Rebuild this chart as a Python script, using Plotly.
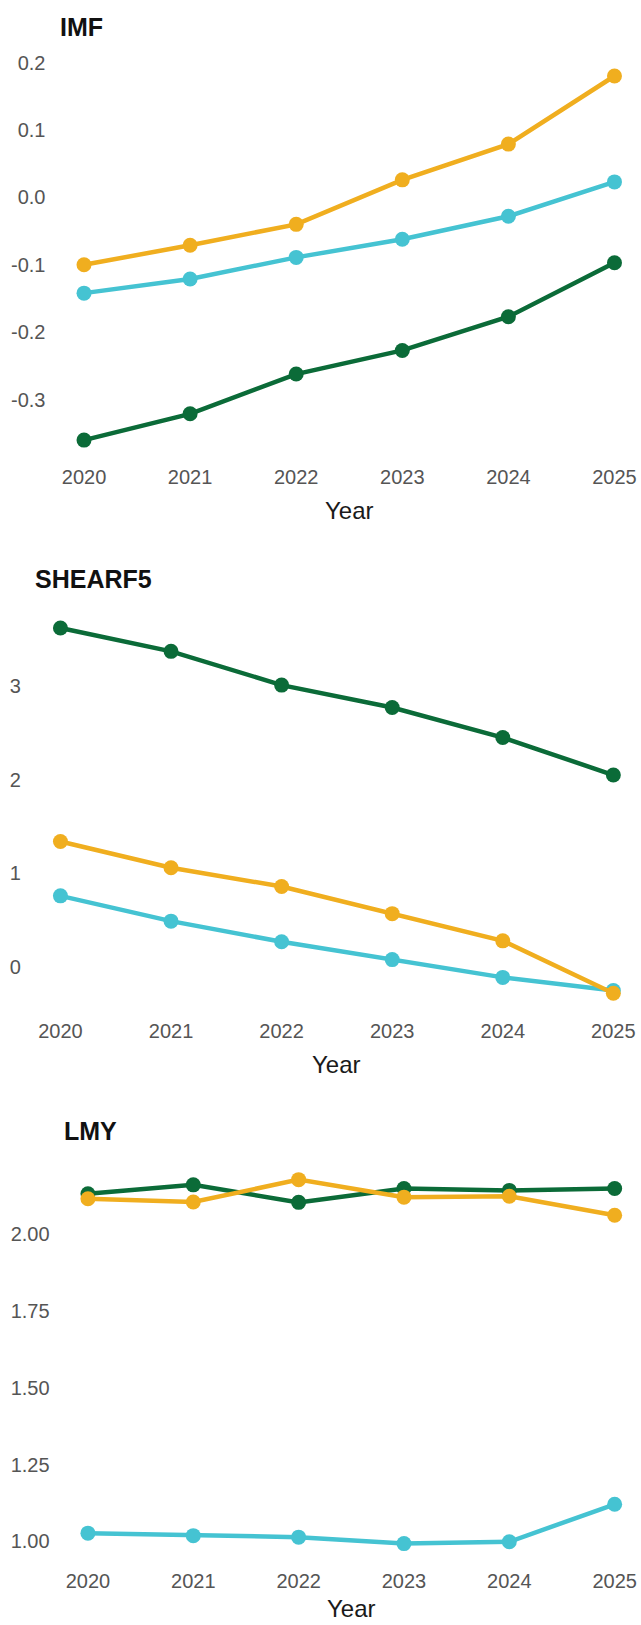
import plotly.graph_objects as go

years = [2020, 2021, 2022, 2023, 2024, 2025]

imf_green = [-0.360, -0.321, -0.262, -0.227, -0.177, -0.097]
imf_orange = [-0.100, -0.071, -0.040, 0.026, 0.079, 0.180]
imf_cyan = [-0.142, -0.121, -0.089, -0.062, -0.028, 0.023]

shear_green = [3.62, 3.37, 3.01, 2.77, 2.45, 2.05]
shear_orange = [1.34, 1.06, 0.86, 0.57, 0.28, -0.28]
shear_cyan = [0.76, 0.49, 0.27, 0.08, -0.11, -0.25]

lmy_green = [2.132, 2.161, 2.104, 2.149, 2.143, 2.149]
lmy_orange = [2.116, 2.105, 2.178, 2.121, 2.124, 2.062]
lmy_cyan = [1.027, 1.019, 1.014, 0.993, 0.999, 1.121]

panel_titles = ["IMF", "SHEARF5", "LMY"]
x_title = "Year"
imf_ticks = [-0.3, -0.2, -0.1, 0.0, 0.1, 0.2]
imf_ticktext = ["-0.3", "-0.2", "-0.1", "0.0", "0.1", "0.2"]
shear_ticks = [0, 1, 2, 3]
shear_ticktext = ["0", "1", "2", "3"]
lmy_ticks = [1.00, 1.25, 1.50, 1.75, 2.00]
lmy_ticktext = ["1.00", "1.25", "1.50", "1.75", "2.00"]

W, H = 641, 1625
GREEN = "#0B6B38"
ORANGE = "#F0AE1F"
CYAN = "#45C3D2"
FONT = "Liberation Sans, Arial, sans-serif"


def fx(px):
    return px / W


def fy(py):
    return 1 - py / H


panels = [
    dict(left=57.5, top=52, bottom=454, yrange=[-0.387, 0.207], year_off=52,
         series=[imf_cyan, imf_green, imf_orange], ticks=imf_ticks, ticktext=imf_ticktext),
    dict(left=32.8, top=605.9, bottom=1009.3, yrange=[-0.475, 3.815], year_off=53,
         series=[shear_cyan, shear_green, shear_orange], ticks=shear_ticks, ticktext=shear_ticktext),
    dict(left=61.6, top=1159.8, bottom=1561.5, yrange=[0.934, 2.237], year_off=47,
         series=[lmy_cyan, lmy_green, lmy_orange], ticks=lmy_ticks, ticktext=lmy_ticktext),
]
colors = [CYAN, GREEN, ORANGE]
names = ["Cyan series", "Green series", "Orange series"]

fig = go.Figure()
annotations = []
layout_axes = {}

for i, p in enumerate(panels):
    n = "" if i == 0 else str(i + 1)
    for vals, col, nm in zip(p["series"], colors, names):
        fig.add_trace(go.Scatter(
            x=years, y=vals, mode="lines+markers", name=nm,
            line=dict(color=col, width=4.5),
            marker=dict(color=col, size=15),
            xaxis="x" + n, yaxis="y" + n, showlegend=False,
            cliponaxis=False,
        ))
    layout_axes["xaxis" + n] = dict(
        domain=[fx(p["left"]), 1.0], range=[2019.75, 2025.25],
        anchor="y" + n, tickmode="array", tickvals=years,
        ticktext=[str(y) for y in years],
        showgrid=False, zeroline=False, showline=False, ticks="",
        tickfont=dict(family=FONT, size=20, color="#555555"),
        ticklabelstandoff=5, fixedrange=True,
    )
    layout_axes["yaxis" + n] = dict(
        domain=[fy(p["bottom"]), fy(p["top"])], range=p["yrange"],
        anchor="x" + n, tickmode="array", tickvals=p["ticks"], ticktext=p["ticktext"],
        showgrid=False, zeroline=False, showline=False, ticks="",
        tickfont=dict(family=FONT, size=20, color="#555555"),
        ticklabelstandoff=11, fixedrange=True,
    )
    annotations.append(dict(
        text="<b>" + panel_titles[i] + "</b>", xref="paper", yref="paper",
        x=fx(p["left"]), y=fy(p["top"] - 31), xanchor="left", yanchor="middle",
        showarrow=False, font=dict(family=FONT, size=25, color="#111111"),
    ))
    annotations.append(dict(
        text=x_title, xref="paper", yref="paper",
        x=fx((p["left"] + W) / 2), y=fy(p["bottom"] + p["year_off"]), xanchor="center",
        yanchor="middle", showarrow=False,
        font=dict(family=FONT, size=24, color="#1a1a1a"),
    ))

fig.update_layout(
    width=W, height=H, margin=dict(l=0, r=0, t=0, b=0),
    paper_bgcolor="white", plot_bgcolor="white",
    annotations=annotations, **layout_axes,
)

fig.write_html("out.html")
